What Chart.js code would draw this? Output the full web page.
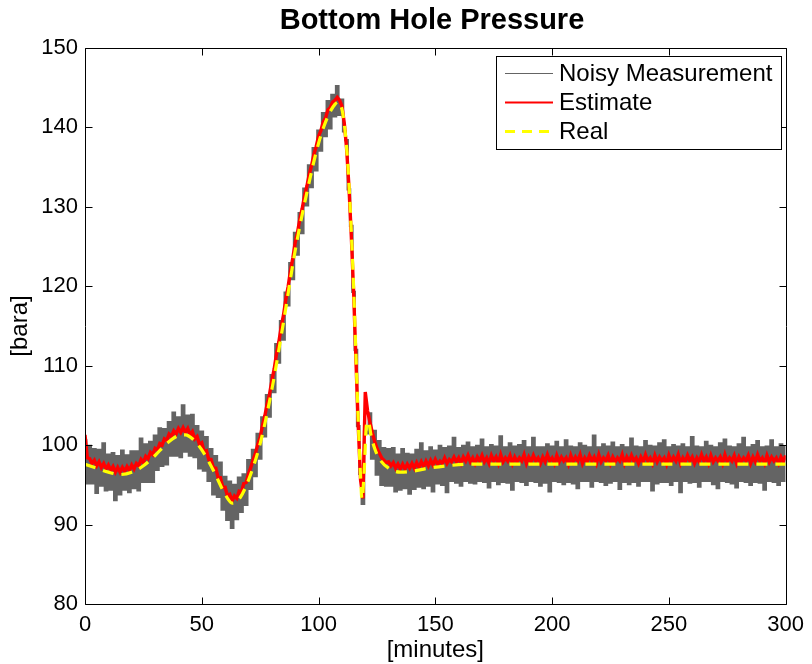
<!DOCTYPE html>
<html>
<head>
<meta charset="utf-8">
<script src="https://cdn.jsdelivr.net/npm/chart.js@4/dist/chart.umd.min.js"></script>
<style>
  html, body { margin: 0; padding: 0; background: #ffffff; }
  canvas { display: block; }
</style>
</head>
<body>
<canvas id="bhp" width="812" height="664"></canvas>
<script>
// Bottom hole pressure log, one sample per minute, in bara
const measuredBar = [
  100.6, 95.2, 99.9, 95.2, 99.5, 94.0, 99.4, 94.9, 100.2, 94.3,
  98.8, 94.4, 99.0, 93.1, 98.6, 93.8, 99.3, 94.4, 98.7, 94.1,
  99.2, 94.6, 99.2, 94.3, 100.8, 95.4, 100.1, 95.4, 100.4, 95.4,
  101.2, 96.9, 102.1, 97.4, 102.0, 97.6, 102.9, 98.7, 104.1, 98.7,
  103.5, 98.5, 105.0, 99.2, 103.7, 98.7, 103.8, 98.5, 102.4, 97.1,
  101.7, 96.8, 101.0, 95.5, 99.5, 93.8, 98.6, 93.5, 97.8, 91.9,
  96.0, 90.6, 95.4, 89.6, 95.0, 90.7, 95.9, 91.6, 96.3, 92.5,
  98.1, 94.5, 99.4, 96.1, 101.4, 98.3, 103.5, 101.1, 106.3, 103.6,
  108.8, 106.7, 112.7, 110.4, 115.6, 113.3, 119.2, 117.6, 122.9, 120.9,
  126.7, 124.0, 129.2, 126.7, 132.3, 130.2, 135.2, 132.5, 137.4, 134.6,
  139.6, 137.1, 141.8, 138.9, 143.3, 139.9, 144.1, 141.4, 145.2, 141.6,
  143.5, 139.5, 138.4, 132.2, 127.6, 119.3, 112.0, 102.4, 96.4, 92.6,
  101.7, 101.5, 104.0, 98.3, 101.8, 96.3, 100.5, 95.0, 99.6, 94.9,
  99.5, 94.9, 99.6, 94.2, 98.8, 94.4, 99.5, 94.6, 98.9, 93.9,
  98.8, 94.5, 99.4, 94.8, 100.2, 94.6, 99.2, 94.9, 99.7, 94.2,
  99.3, 95.2, 99.9, 95.0, 99.6, 94.1, 99.8, 95.5, 100.9, 95.3,
  99.6, 94.9, 99.9, 95.5, 100.3, 95.3, 99.7, 95.2, 99.9, 95.5,
  100.7, 95.4, 99.7, 94.7, 100.0, 95.5, 99.8, 95.1, 101.1, 95.4,
  99.7, 95.3, 100.2, 94.4, 99.8, 95.5, 100.0, 95.4, 100.5, 95.0,
  99.7, 95.5, 100.9, 95.4, 99.7, 94.9, 99.7, 95.3, 100.1, 94.2,
  99.8, 95.5, 100.4, 95.4, 99.7, 95.1, 100.6, 95.4, 99.8, 95.2,
  99.7, 94.6, 100.2, 95.5, 99.9, 95.5, 99.7, 94.8, 101.2, 95.5,
  99.7, 95.4, 100.1, 95.0, 99.8, 95.3, 100.3, 95.5, 99.7, 94.5,
  100.0, 95.4, 99.7, 95.1, 100.8, 95.4, 99.8, 94.9, 99.7, 95.5,
  100.5, 95.5, 99.9, 94.3, 99.8, 95.2, 100.2, 95.4, 100.6, 95.4,
  99.7, 95.0, 100.0, 95.5, 99.8, 94.1, 100.1, 95.5, 99.7, 95.3,
  101.0, 95.4, 99.8, 94.8, 99.7, 95.5, 100.4, 95.5, 99.9, 95.1,
  99.7, 94.6, 100.2, 95.5, 100.7, 95.4, 99.8, 95.2, 99.7, 94.7,
  100.1, 95.5, 100.9, 95.4, 99.7, 95.0, 100.0, 95.4, 100.5, 95.3,
  99.7, 94.4, 99.8, 95.5, 100.6, 95.4, 99.7, 95.0, 100.1, 95.5,
  99.8
];

// Filter estimate, same sampling as the log
const estimatedBar = [
  101.3, 98.4, 98.3, 97.7, 98.1, 97.4, 97.9, 97.2, 97.7, 97.0,
  97.5, 96.8, 97.3, 96.6, 97.2, 96.6, 97.2, 96.7, 97.3, 96.8,
  97.5, 97.0, 97.7, 97.4, 98.2, 97.8, 98.6, 98.3, 99.1, 98.8,
  99.6, 99.4, 100.2, 100.0, 100.8, 100.6, 101.4, 101.1, 101.8, 101.4,
  102.1, 101.6, 102.2, 101.6, 102.1, 101.3, 101.7, 100.8, 101.1, 100.1,
  100.3, 99.2, 99.3, 98.2, 98.2, 97.1, 97.1, 95.9, 95.9, 94.7,
  94.7, 93.6, 93.8, 93.0, 93.6, 93.3, 94.2, 94.1, 95.2, 95.3,
  96.4, 97.2, 98.2, 99.0, 100.1, 101.0, 102.5, 103.7, 105.2, 106.4,
  108.1, 109.6, 111.5, 113.0, 114.9, 116.4, 118.4, 120.0, 122.0, 123.6,
  125.5, 126.8, 128.5, 129.8, 131.4, 132.6, 134.1, 135.2, 136.6, 137.6,
  138.9, 139.6, 140.7, 141.2, 142.2, 142.5, 143.2, 143.4, 143.8, 143.4,
  142.7, 140.6, 137.4, 132.6, 126.5, 119.4, 110.8, 102.4, 95.6, 93.3,
  106.7, 104.3, 102.9, 101.6, 100.5, 99.6, 99.0, 98.4, 98.1, 97.8,
  97.9, 97.4, 97.8, 97.1, 97.6, 97.0, 97.6, 97.0, 97.6, 97.1,
  97.7, 97.1, 97.8, 97.2, 97.9, 97.3, 98.0, 97.4, 98.1, 97.5,
  98.2, 97.6, 98.0, 97.7, 98.4, 97.7, 98.2, 97.9, 98.5, 97.9,
  98.4, 97.7, 98.5, 98.0, 98.7, 97.9, 98.4, 97.7, 98.5, 98.0,
  98.7, 97.9, 98.4, 97.7, 98.7, 98.0, 98.5, 97.7, 98.8, 97.9,
  98.4, 98.0, 98.7, 97.7, 98.5, 97.9, 98.4, 98.0, 98.8, 97.7,
  98.5, 97.9, 98.7, 98.0, 98.4, 97.7, 98.5, 97.9, 98.8, 98.0,
  98.4, 97.7, 98.7, 97.9, 98.5, 98.0, 98.4, 97.6, 98.7, 97.9,
  98.5, 98.0, 98.8, 97.7, 98.4, 97.9, 98.7, 98.0, 98.5, 97.7,
  98.8, 97.9, 98.4, 98.0, 98.7, 97.7, 98.5, 97.9, 98.4, 98.0,
  98.8, 97.7, 98.5, 97.9, 98.7, 98.0, 98.4, 97.7, 98.5, 97.9,
  98.8, 98.0, 98.4, 97.7, 98.7, 97.9, 98.5, 98.0, 98.4, 97.6,
  98.7, 97.9, 98.5, 98.0, 98.8, 97.7, 98.4, 97.9, 98.7, 98.0,
  98.5, 97.7, 98.4, 97.9, 98.8, 98.0, 98.5, 97.7, 98.7, 97.9,
  98.4, 98.0, 98.5, 97.7, 98.8, 97.9, 98.4, 98.0, 98.7, 97.7,
  98.5, 97.9, 98.4, 98.0, 98.7, 97.7, 98.5, 97.9, 98.8, 98.0,
  98.4, 97.7, 98.7, 97.9, 98.5, 98.0, 98.4, 97.7, 98.5, 97.9,
  98.7
];

// True pressure, given at its turning points
const realMinutes = [
  0, 5, 10, 15, 20, 25, 30, 35, 40, 43, 46, 50, 55, 60, 63, 66, 70, 75,
  80, 85, 90, 95, 100, 104, 107, 108.5, 110, 111, 112, 113, 114, 115, 116,
  117, 118, 118.6, 119.5, 120.5, 121.3, 122.5, 124, 126, 130, 135, 140,
  147, 155, 165, 180, 200, 220, 240, 260, 280, 300
];
const realBar = [
  97.6, 97.1, 96.6, 96.3, 96.6, 97.4, 98.7, 100.2, 101.2, 101.3, 100.8, 99.4,
  96.8, 93.8, 92.7, 93.2, 95.6, 100.2, 107.0, 115.5, 124.5, 131.8, 138.0,
  141.4, 142.9, 143.2, 142.3, 140.5, 137.5, 133.0, 127.0, 120.0, 111.5,
  103.0, 96.0, 93.2, 96.5, 102.5, 103.0, 101.2, 99.6, 98.3, 97.1, 96.6,
  96.7, 97.1, 97.4, 97.6, 97.6, 97.6, 97.6, 97.6, 97.6, 97.6, 97.6
];

const minuteTicks = [0, 50, 100, 150, 200, 250, 300];
const barTicks = [80, 90, 100, 110, 120, 130, 140, 150];
const seriesNames = ['Noisy Measurement', 'Estimate', 'Real'];
const SAMPLE_STEP_MIN = 1;

const FONT = 'Liberation Sans, Arial, Helvetica, sans-serif';
const GRAY = '#646464';
const RED = '#ff0000';
const YELLOW = '#ffff00';

const sampled = vals => vals.map((v, i) => ({ x: i * SAMPLE_STEP_MIN, y: v }));
const paired = (xs, ys) => xs.map((x, i) => ({ x: x, y: ys[i] }));

// Box frame with inward ticks, title, axis names and boxed legend
const frameAndLegend = {
  id: 'frameAndLegend',
  afterDraw(chart) {
    const { ctx, chartArea: a, scales } = chart;
    const xs = scales.x, ys = scales.y;
    const L = Math.round(a.left) + 0.5, R = Math.round(a.right) + 0.5;
    const T = Math.round(a.top) + 0.5, B = Math.round(a.bottom) + 0.5;
    const tick = 7;
    ctx.save();
    ctx.strokeStyle = '#000';
    ctx.lineWidth = 1;
    ctx.beginPath();
    ctx.rect(L, T, R - L, B - T);
    minuteTicks.forEach(v => {
      const px = Math.round(xs.getPixelForValue(v)) + 0.5;
      ctx.moveTo(px, B); ctx.lineTo(px, B - tick);
      ctx.moveTo(px, T); ctx.lineTo(px, T + tick);
    });
    barTicks.forEach(v => {
      const py = Math.round(ys.getPixelForValue(v)) + 0.5;
      ctx.moveTo(L, py); ctx.lineTo(L + tick, py);
      ctx.moveTo(R, py); ctx.lineTo(R - tick, py);
    });
    ctx.stroke();

    // title and axis names
    ctx.fillStyle = '#000';
    ctx.textAlign = 'center';
    ctx.textBaseline = 'alphabetic';
    ctx.font = 'bold 29px ' + FONT;
    ctx.fillText('Bottom Hole Pressure', 432, 29);
    ctx.font = '24px ' + FONT;
    ctx.fillText('[minutes]', (a.left + a.right) / 2, 657);
    ctx.save();
    ctx.translate(27, (a.top + a.bottom) / 2);
    ctx.rotate(-Math.PI / 2);
    ctx.fillText('[bara]', 0, 0);
    ctx.restore();

    // legend
    const lx = 496.5, ly = 56.5, lw = 285, lh = 93;
    ctx.fillStyle = '#fff';
    ctx.fillRect(lx, ly, lw, lh);
    ctx.strokeStyle = '#000';
    ctx.lineWidth = 1;
    ctx.strokeRect(lx, ly, lw, lh);
    const rows = [73, 102, 131];
    const styles = [
      { c: GRAY, w: 1, d: [] },
      { c: RED, w: 2, d: [] },
      { c: YELLOW, w: 3, d: [10, 7] }
    ];
    ctx.font = '24px ' + FONT;
    ctx.textAlign = 'left';
    ctx.textBaseline = 'middle';
    rows.forEach((y, i) => {
      const s = styles[i];
      ctx.strokeStyle = s.c;
      ctx.lineWidth = s.w;
      ctx.setLineDash(s.d);
      ctx.beginPath();
      ctx.moveTo(505, y + 0.5);
      ctx.lineTo(553, y + 0.5);
      ctx.stroke();
      ctx.setLineDash([]);
      ctx.fillStyle = '#000';
      ctx.fillText(seriesNames[i], 559, y + 1);
    });
    ctx.restore();
  }
};

new Chart(document.getElementById('bhp'), {
  type: 'line',
  data: {
    datasets: [
      {
        label: seriesNames[0],
        data: sampled(measuredBar),
        borderColor: GRAY,
        borderWidth: 2.4,
        pointRadius: 0,
        stepped: 'middle',
        order: 3
      },
      {
        label: seriesNames[1],
        data: sampled(estimatedBar),
        borderColor: RED,
        borderWidth: 3.4,
        pointRadius: 0,
        tension: 0,
        order: 2
      },
      {
        label: seriesNames[2],
        data: paired(realMinutes, realBar),
        borderColor: YELLOW,
        borderWidth: 3.2,
        borderDash: [11, 8],
        pointRadius: 0,
        cubicInterpolationMode: 'monotone',
        order: 1
      }
    ]
  },
  options: {
    responsive: false,
    animation: false,
    events: [],
    layout: { padding: { left: 0, right: 23, top: 48, bottom: 0 } },
    plugins: {
      legend: { display: false },
      title: { display: false },
      tooltip: { enabled: false }
    },
    scales: {
      x: {
        type: 'linear',
        min: 0,
        max: 300,
        grid: { display: false, drawTicks: false },
        border: { display: false },
        ticks: {
          color: '#000',
          padding: 8,
          maxRotation: 0,
          autoSkip: false,
          font: { family: FONT, size: 22 }
        },
        afterBuildTicks: s => { s.ticks = minuteTicks.map(v => ({ value: v })); },
        afterFit: s => { s.height = 60; }
      },
      y: {
        type: 'linear',
        min: 80,
        max: 150,
        grid: { display: false, drawTicks: false },
        border: { display: false },
        ticks: {
          color: '#000',
          padding: 7,
          autoSkip: false,
          font: { family: FONT, size: 22 }
        },
        afterBuildTicks: s => { s.ticks = barTicks.map(v => ({ value: v })); },
        afterFit: s => { s.width = 85; }
      }
    }
  },
  plugins: [frameAndLegend]
});
</script>
</body>
</html>
